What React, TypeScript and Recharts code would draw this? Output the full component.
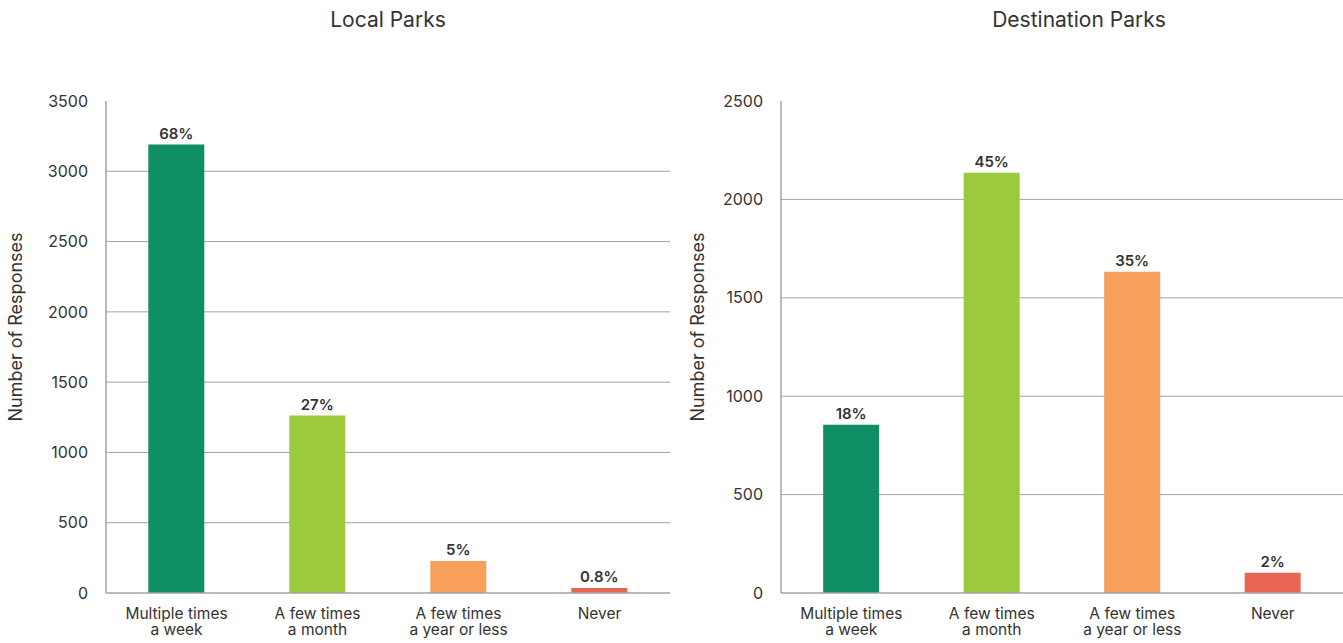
import React from "react";
import { Bar, BarChart, CartesianGrid, Cell, LabelList, XAxis, YAxis } from "recharts";

const categories = ["Multiple times|a week", "A few times|a month", "A few times|a year or less", "Never"];
const localValues = [3190, 1262, 228, 36];
const localPct = ["68%", "27%", "5%", "0.8%"];
const destValues = [855, 2135, 1632, 103];
const destPct = ["18%", "45%", "35%", "2%"];
const barColors = ["#108f66", "#9bca3c", "#f6a05c", "#e86653"];
const localTicks = [0, 500, 1000, 1500, 2000, 2500, 3000, 3500];
const destTicks = [0, 500, 1000, 1500, 2000, 2500];

const FONT = "Inter, 'Noto Sans', sans-serif";
const TEXT = "#333333";
const GRID = "#a3a3a3";

function build(values: number[], pct: string[]) {
  return categories.map((c, i) => ({ name: c, value: values[i], pct: pct[i] }));
}

function CategoryTick(props: any) {
  const { x, y, payload } = props;
  const lines = String(payload.value).split("|");
  return (
    <text x={x} y={y + 26} textAnchor="middle" fill={TEXT} fontSize={15.5} fontFamily={FONT}>
      {lines.map((l, i) => (
        <tspan key={i} x={x} dy={i === 0 ? 0 : 16}>
          {l}
        </tspan>
      ))}
    </text>
  );
}

function AxisTitle(props: any) {
  const { viewBox, offset } = props;
  const cx = viewBox.x + offset;
  const cy = viewBox.y + viewBox.height / 2 - 20;
  return (
    <text
      x={cx}
      y={cy}
      transform={`rotate(-90, ${cx}, ${cy})`}
      textAnchor="middle"
      dominantBaseline="central"
      fill={TEXT}
      fontSize={18}
      fontFamily={FONT}
    >
      Number of Responses
    </text>
  );
}

type PanelProps = {
  values: number[];
  pct: string[];
  ticks: number[];
  width: number;
  axisWidth: number;
  labelOffset: number;
  rightMargin: number;
};

function Panel({ values, pct, ticks, width, axisWidth, labelOffset, rightMargin }: PanelProps) {
  const data = build(values, pct);
  const top = ticks[ticks.length - 1];
  return (
    <BarChart
      width={width}
      height={643}
      data={data}
      margin={{ top: 101, right: rightMargin, bottom: 20, left: 0 }}
      barCategoryGap="30%"
    >
      <CartesianGrid
        vertical={false}
        stroke={GRID}
        strokeWidth={1}
        horizontalValues={ticks.filter((t) => t !== 0 && t !== top)}
      />
      <XAxis
        dataKey="name"
        height={30}
        tickLine={false}
        tickSize={0}
        tickMargin={0}
        axisLine={{ stroke: GRID, strokeWidth: 1.5 }}
        tick={<CategoryTick />}
        interval={0}
      />
      <YAxis
        width={axisWidth}
        domain={[0, top]}
        ticks={ticks}
        interval={0}
        tickLine={false}
        tickSize={0}
        tickMargin={18}
        axisLine={{ stroke: GRID, strokeWidth: 1.5 }}
        tick={{ fontSize: 16, fill: TEXT, fontFamily: FONT }}
        label={{ position: "insideLeft", offset: labelOffset, content: (p: any) => <AxisTitle {...p} offset={labelOffset} /> }}
      />
      <Bar dataKey="value" isAnimationActive={false}>
        {data.map((d, i) => (
          <Cell key={d.name} fill={barColors[i]} />
        ))}
        <LabelList
          dataKey="pct"
          position="top"
          offset={6}
          style={{ fontSize: 15, fontWeight: 600, fill: TEXT, fontFamily: FONT }}
        />
      </Bar>
    </BarChart>
  );
}

export default function App() {
  const titleStyle: React.CSSProperties = {
    position: "absolute",
    top: 7,
    fontFamily: FONT,
    fontSize: 21,
    color: TEXT,
    transform: "translateX(-50%)",
    whiteSpace: "nowrap",
  };
  return (
    <div
      style={{
        position: "absolute",
        left: 0,
        top: 0,
        width: 1343,
        height: 643,
        background: "#fff",
        overflow: "hidden",
      }}
    >
      <div style={{ ...titleStyle, left: 388 }}>Local Parks</div>
      <div style={{ ...titleStyle, left: 1079 }}>Destination Parks</div>
      <div style={{ position: "absolute", left: 0, top: 0 }}>
        <Panel
          values={localValues}
          pct={localPct}
          ticks={localTicks}
          width={680}
          axisWidth={106}
          labelOffset={15}
          rightMargin={10}
        />
      </div>
      <div style={{ position: "absolute", left: 680, top: 0 }}>
        <Panel
          values={destValues}
          pct={destPct}
          ticks={destTicks}
          width={663}
          axisWidth={101}
          labelOffset={17}
          rightMargin={0}
        />
      </div>
    </div>
  );
}
